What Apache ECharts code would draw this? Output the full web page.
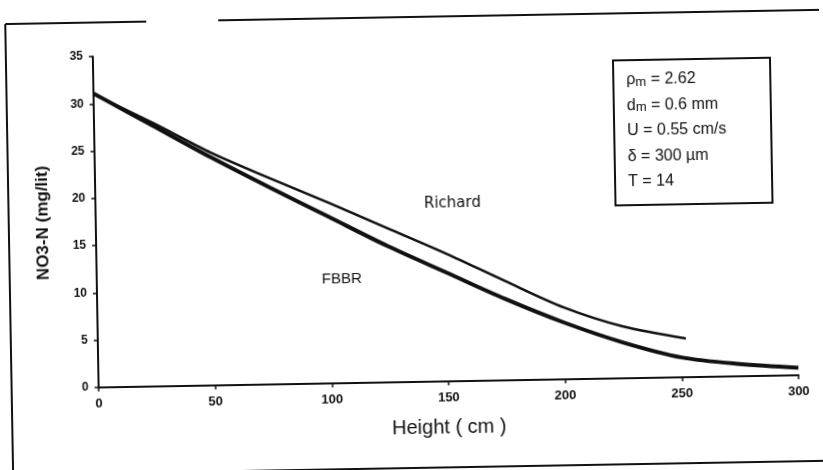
<!DOCTYPE html>
<html>
<head>
<meta charset="utf-8">
<script src="https://cdn.jsdelivr.net/npm/echarts@6/dist/echarts.min.js"></script>
<style>
  html, body { margin: 0; padding: 0; background: #fff; overflow: hidden; }
  /* the scanned figure is a little rotated */
  #chart { width: 823px; height: 470px; transform: rotate(-1deg); }
</style>
</head>
<body>
<div id="chart"></div>
<script>
// FBBR model curve
const fbbrHeight = [0, 25, 50, 75, 100, 125, 150, 175, 200, 225, 250, 275, 300]
const fbbrNO3 = [31.1, 27.6, 24.1, 20.8, 17.6, 14.4, 11.5, 8.6, 6.0, 3.8, 2.1, 1.3, 0.8]
// Richard model curve
const richardHeight = [0, 25, 50, 75, 100, 125, 150, 175, 200, 225, 252]
const richardNO3 = [31.0, 27.9, 24.6, 21.8, 19.1, 16.3, 13.5, 10.5, 7.6, 5.5, 4.1]
// curve names written next to the lines (in data coordinates)
const curveLabels = [
  { text: 'Richard', at: [153, 18.8], font: '15px "DejaVu Sans"' },
  { text: 'FBBR', at: [105, 11.0], font: '15px "Liberation Sans"' }
]
// parameter box
const paramLines = [
  ['ρ', 'm', ' = 2.62'],
  ['d', 'm', ' = 0.6 mm'],
  ['U', '', ' = 0.55 cm/s'],
  ['δ', '', ' = 300 µm'],
  ['T', '', ' = 14']
]

const ink = '#111'
const chart = echarts.init(document.getElementById('chart'))

const toPair = (xs, ys) => xs.map((x, i) => [x, ys[i]])

chart.setOption({
  backgroundColor: '#fff',
  animation: false,
  grid: { left: 96, right: 27, top: 51, bottom: 88 },
  xAxis: {
    type: 'value',
    min: 0,
    max: 300,
    interval: 50,
    name: 'Height ( cm )',
    nameLocation: 'middle',
    nameGap: 36,
    nameTextStyle: { color: ink, fontSize: 20, fontFamily: 'Liberation Sans' },
    axisLine: { lineStyle: { color: ink, width: 2 } },
    axisTick: { show: true, length: 4, lineStyle: { color: ink, width: 1.5 } },
    axisLabel: { color: ink, fontSize: 13, fontWeight: 'bold', fontFamily: 'Liberation Sans', margin: 10 },
    splitLine: { show: false }
  },
  yAxis: {
    type: 'value',
    min: 0,
    max: 35,
    interval: 5,
    name: 'NO3-N (mg/lit)',
    nameLocation: 'middle',
    nameGap: 44,
    nameTextStyle: { color: ink, fontSize: 17, fontWeight: 'bold', fontFamily: 'Liberation Sans' },
    axisLine: { show: true, lineStyle: { color: ink, width: 2 } },
    axisTick: { show: true, length: 4, lineStyle: { color: ink, width: 1.5 } },
    axisLabel: { color: ink, fontSize: 12, fontWeight: 'bold', fontFamily: 'Liberation Sans', margin: 10 },
    splitLine: { show: false }
  },
  series: [
    {
      name: 'FBBR',
      type: 'line',
      data: toPair(fbbrHeight, fbbrNO3),
      smooth: 0.3,
      symbol: 'none',
      lineStyle: { color: ink, width: 4 }
    },
    {
      name: 'Richard',
      type: 'line',
      data: toPair(richardHeight, richardNO3),
      smooth: 0.3,
      symbol: 'none',
      lineStyle: { color: ink, width: 2.5 }
    }
  ]
})

// scanned page frame + parameter box + curve names
const labelEls = curveLabels.map(l => {
  const p = chart.convertToPixel({ gridIndex: 0 }, l.at)
  return {
    type: 'text',
    x: p[0],
    y: p[1],
    style: { text: l.text, font: l.font, fill: ink, align: 'center', verticalAlign: 'middle' }
  }
})

const paramText = paramLines.map(r => '{a|' + r[0] + '}' + (r[1] ? '{s|' + r[1] + '}' : '') + '{a|' + r[2] + '}').join('\n')

chart.setOption({
  graphic: [
    { type: 'line', shape: { x1: 9, y1: 17, x2: 9, y2: 480 }, style: { stroke: ink, lineWidth: 2 } },
    { type: 'line', shape: { x1: 9, y1: 17, x2: 150, y2: 17 }, style: { stroke: ink, lineWidth: 2 } },
    { type: 'line', shape: { x1: 222, y1: 17, x2: 840, y2: 17 }, style: { stroke: ink, lineWidth: 2 } },
    { type: 'line', shape: { x1: 228, y1: 468, x2: 840, y2: 468 }, style: { stroke: ink, lineWidth: 2 } },
    {
      type: 'rect',
      shape: { x: 616, y: 64, width: 157, height: 145 },
      style: { fill: '#fff', stroke: ink, lineWidth: 2 }
    },
    {
      type: 'text',
      x: 629,
      y: 71,
      style: {
        text: paramText,
        rich: {
          a: { fontSize: 16, fontFamily: 'Liberation Sans', fill: ink, lineHeight: 25.5 },
          s: { fontSize: 13, fontFamily: 'Liberation Sans', fill: ink, lineHeight: 25.5, padding: [5, 0, 0, 0] }
        }
      }
    }
  ].concat(labelEls)
})
</script>
</body>
</html>
